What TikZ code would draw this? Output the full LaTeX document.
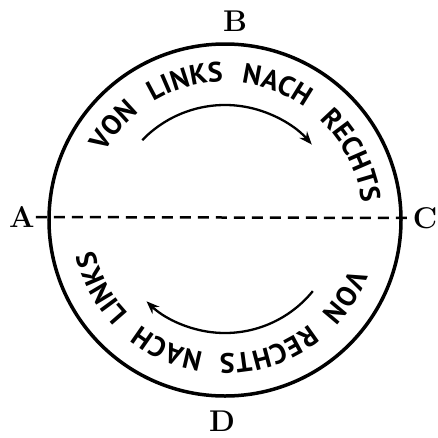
\documentclass[tikz,border=0pt]{standalone}
\usepackage{fontspec}
\newfontfamily\lettering{PT Sans}
\usetikzlibrary{arrows.meta,decorations.text}

\begin{document}
\begin{tikzpicture}[x=1pt,y=1pt,>={Stealth[length=13pt,width=10pt]},
rim/.style={line width=3.5pt},
axis/.style={line width=2.5pt,dash pattern=on 11pt off 7pt},
pt/.style={font=\fontsize{30}{30}\selectfont\bfseries,inner sep=1pt},
turn/.style={->,line width=2.3pt},
along/.style={decorate,decoration={text along path,
  text align={fit to path stretching spaces},
  text={|\lettering\bfseries\fontsize{28}{28}\selectfont|#1}}}]
\useasboundingbox (-225,-217) rectangle (213,220);
\coordinate (o) at (0,0);
\draw[rim] (o) circle[radius=176];
\node[pt] (a) at (-203,3) {A};
\node[pt] (b) at (10,199) {B};
\node[pt] (c) at (200,2) {C};
\node[pt] (d) at (-3,-201) {D};
\draw[axis] (a) -- (c);
% lettering inside the rim
\path[along={VON LINKS NACH RECHTS}] (151:138) arc[start angle=151,end angle=7,radius=138];
\path[along={VON RECHTS NACH LINKS}] (-21:134) arc[start angle=-21,end angle=-167,radius=134];
% sense of rotation
\coordinate (t0) at (136:115);
\coordinate (u0) at (-39:113);
\draw[turn] (t0) arc[start angle=136,end angle=41,radius=115];
\draw[turn] (u0) arc[start angle=-39,end angle=-134,radius=113];
\end{tikzpicture}
\end{document}
